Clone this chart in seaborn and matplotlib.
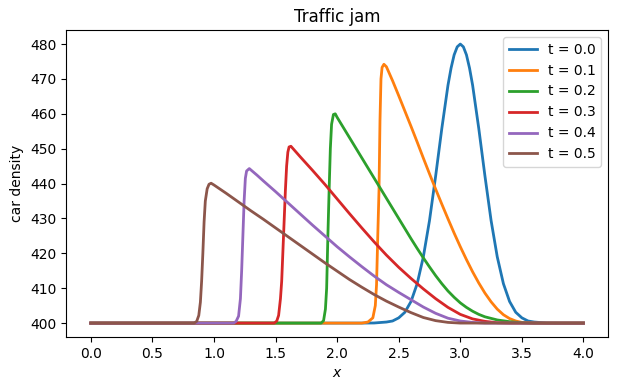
import matplotlib
matplotlib.use("Agg")
import matplotlib.pyplot as plt
import seaborn as sns
import pandas as pd

# valeurs (densité de voitures)
times = ["t = 0.0", "t = 0.1", "t = 0.2", "t = 0.3", "t = 0.4", "t = 0.5"]

x_t0 = [0.0, 2.2, 2.3, 2.4, 2.45, 2.5, 2.55, 2.6, 2.65, 2.7, 2.75, 2.8, 2.85, 2.9, 2.925, 2.95, 2.975,
        3.0, 3.025, 3.05, 3.075, 3.1, 3.15, 3.2, 3.25, 3.3, 3.35, 3.4, 3.45, 3.5, 3.55, 3.6, 3.7, 3.8, 4.0]
rho_t0 = [400.0, 400.0, 400.03, 400.3, 400.6, 401.5, 403.1, 406.2, 411.3, 419.0, 429.4, 442.2, 455.8, 468.2, 473.1, 476.9, 479.2,
          480.0, 479.2, 476.9, 473.1, 468.2, 455.8, 442.2, 429.4, 419.0, 411.3, 406.2, 403.1, 401.5, 400.6, 400.3, 400.03, 400.0, 400.0]

x_t1 = [0.0, 2.2, 2.25, 2.29, 2.31, 2.32, 2.33, 2.34, 2.348, 2.356, 2.365, 2.38, 2.4, 2.45, 2.5, 2.55, 2.6,
        2.65, 2.7, 2.75, 2.8, 2.85, 2.9, 2.95, 3.0, 3.05, 3.1, 3.15, 3.2, 3.25, 3.3, 3.35, 3.4, 3.45, 3.5, 3.6, 4.0]
rho_t1 = [400.0, 400.0, 400.3, 401.5, 405.0, 411.0, 425.0, 438.0, 458.0, 470.0, 473.3, 474.2, 473.5, 469.5, 465.2, 460.8, 456.4,
          451.9, 447.3, 442.8, 438.4, 434.1, 429.9, 425.8, 421.9, 418.2, 414.7, 411.5, 408.6, 406.1, 404.0, 402.4, 401.3, 400.6, 400.2, 400.0, 400.0]

x_t2 = [0.0, 1.87, 1.89, 1.905, 1.915, 1.925, 1.935, 1.945, 1.955, 1.97, 1.985, 2.0, 2.05, 2.1, 2.15, 2.2, 2.25,
        2.3, 2.35, 2.4, 2.45, 2.5, 2.55, 2.6, 2.65, 2.7, 2.75, 2.8, 2.85, 2.9, 2.95, 3.0, 3.05, 3.1, 3.15, 3.2,
        3.3, 3.4, 3.5, 3.6, 4.0]
rho_t2 = [400.0, 400.0, 400.7, 404.0, 410.0, 425.0, 438.0, 450.0, 457.0, 459.8, 460.0, 459.0, 456.1, 453.2, 450.3, 447.4, 444.5,
          441.6, 438.7, 435.8, 432.9, 430.0, 427.1, 424.2, 421.4, 418.7, 416.1, 413.6, 411.3, 409.2, 407.4, 405.8, 404.5, 403.4, 402.5, 401.8,
          400.9, 400.4, 400.1, 400.0, 400.0]

x_t3 = [0.0, 1.49, 1.51, 1.525, 1.54, 1.55, 1.565, 1.58, 1.59, 1.6, 1.61, 1.625, 1.7, 1.8, 1.9, 2.0, 2.1,
        2.2, 2.3, 2.4, 2.5, 2.6, 2.7, 2.8, 2.9, 3.0, 3.1, 3.2, 3.3, 3.4, 4.0]
rho_t3 = [400.0, 400.0, 400.6, 402.2, 407.0, 412.0, 425.0, 438.0, 445.0, 449.0, 450.5, 450.7, 447.7, 443.8, 439.8, 435.6, 431.4,
          427.3, 423.3, 419.5, 416.0, 412.8, 409.8, 407.0, 404.5, 402.5, 401.2, 400.5, 400.1, 400.0, 400.0]

x_t4 = [0.0, 1.16, 1.18, 1.2, 1.215, 1.225, 1.235, 1.245, 1.255, 1.265, 1.287, 1.35, 1.4, 1.5, 1.6, 1.7,
        1.8, 1.9, 2.0, 2.1, 2.2, 2.3, 2.4, 2.5, 2.6, 2.7, 2.8, 2.9, 3.0, 3.1, 3.2, 4.0]
rho_t4 = [400.0, 400.0, 400.5, 402.0, 407.0, 415.0, 425.0, 435.0, 441.5, 443.6, 444.3, 442.4, 440.8, 437.7, 434.5, 431.3,
          428.1, 425.0, 421.9, 419.0, 416.2, 413.5, 411.0, 408.8, 406.7, 404.6, 402.8, 401.4, 400.6, 400.2, 400.0, 400.0]

x_t5 = [0.0, 0.84, 0.86, 0.877, 0.89, 0.9, 0.91, 0.92, 0.93, 0.945, 0.96, 0.977, 1.0, 1.1, 1.2, 1.3, 1.4,
        1.5, 1.6, 1.7, 1.8, 1.9, 2.0, 2.1, 2.2, 2.3, 2.4, 2.5, 2.6, 2.7, 2.8, 2.9, 3.0, 4.0]
rho_t5 = [400.0, 400.0, 400.5, 402.2, 406.0, 412.0, 420.0, 429.0, 435.0, 438.5, 439.8, 440.1, 439.6, 437.2, 434.7, 432.2, 429.8,
          427.3, 424.8, 422.3, 419.8, 417.3, 414.9, 412.5, 410.3, 408.2, 406.3, 404.6, 403.0, 401.6, 400.7, 400.2, 400.0, 400.0]

xs = [x_t0, x_t1, x_t2, x_t3, x_t4, x_t5]
rhos = [rho_t0, rho_t1, rho_t2, rho_t3, rho_t4, rho_t5]

frames = []
for label, x, rho in zip(times, xs, rhos):
    frames.append(pd.DataFrame({"x": x, "rho": rho, "t": label}))
df = pd.concat(frames, ignore_index=True)

fig, ax = plt.subplots(figsize=(6.18, 3.91), dpi=100)
fig.subplots_adjust(left=0.107, right=0.984, top=0.923, bottom=0.138)

sns.lineplot(data=df, x="x", y="rho", hue="t", hue_order=times,
             palette=sns.color_palette("tab10", 6), estimator=None, sort=False,
             linewidth=2, ax=ax)

ax.legend(loc="upper right")
ax.set_title("Traffic jam")
ax.set_xlabel("$x$")
ax.set_ylabel("car density")

fig.savefig("out.png", dpi=100)
